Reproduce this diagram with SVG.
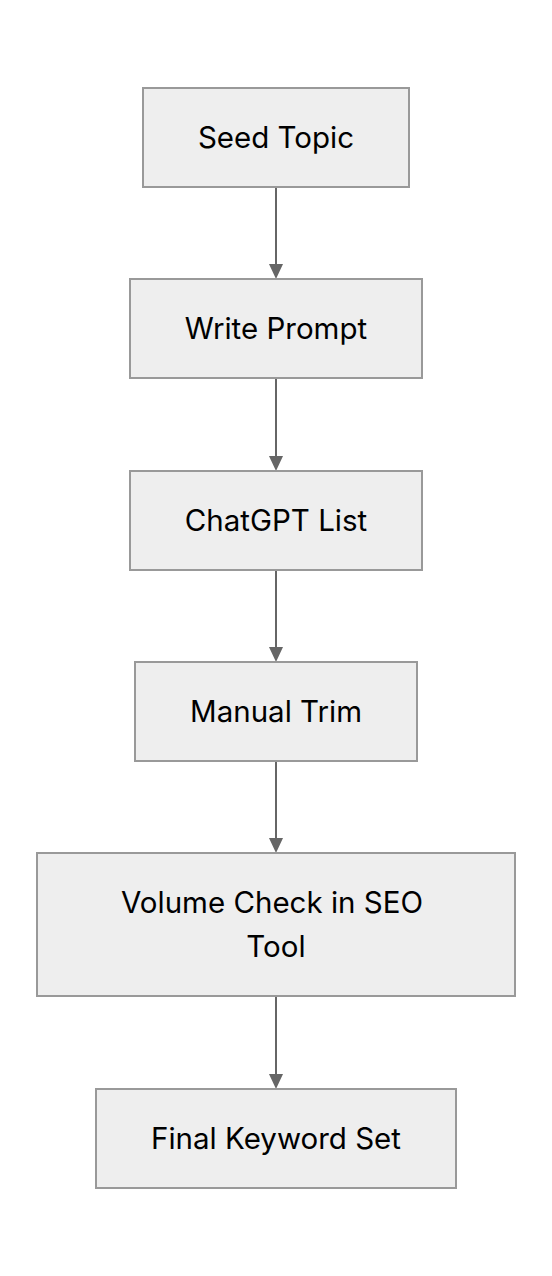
<svg xmlns="http://www.w3.org/2000/svg" width="552" height="1276" viewBox="0 0 552 1276">
<style>
.node rect{fill:#eeeeee;stroke:#999999;stroke-width:2}
.node text{font-family:Inter,"Noto Sans","Liberation Sans",sans-serif;font-size:29.5px;fill:#000;text-anchor:middle}
.edge{stroke:#666666;stroke-width:2;fill:none}
.head{fill:#666666}
</style>
<rect width="552" height="1276" fill="#ffffff"/>
<g id="connectors">
<line class="edge" x1="276" y1="187" x2="276" y2="264"/>
<path class="head" d="M269,264 L283,264 L276,279 Z"/>
<line class="edge" x1="276" y1="378" x2="276" y2="456"/>
<path class="head" d="M269,456 L283,456 L276,471 Z"/>
<line class="edge" x1="276" y1="570" x2="276" y2="647"/>
<path class="head" d="M269,647 L283,647 L276,662 Z"/>
<line class="edge" x1="276" y1="761" x2="276" y2="838"/>
<path class="head" d="M269,838 L283,838 L276,853 Z"/>
<line class="edge" x1="276" y1="996" x2="276" y2="1074"/>
<path class="head" d="M269,1074 L283,1074 L276,1089 Z"/>
</g>
<g id="seed" class="node"><rect x="143" y="88" width="266" height="99"/><text x="276" y="148">Seed Topic</text></g>
<g id="write" class="node"><rect x="130" y="279" width="292" height="99"/><text x="276" y="339">Write Prompt</text></g>
<g id="chatgpt" class="node"><rect x="130" y="471" width="292" height="99"/><text x="276" y="531">ChatGPT List</text></g>
<g id="trim" class="node"><rect x="135" y="662" width="282" height="99"/><text x="276" y="722">Manual Trim</text></g>
<g id="volume" class="node"><rect x="37" y="853" width="478" height="143"/><text x="272" y="913">Volume Check in SEO</text><text x="276" y="957">Tool</text></g>
<g id="final" class="node"><rect x="96" y="1089" width="360" height="99"/><text x="276" y="1149">Final Keyword Set</text></g>
</svg>
